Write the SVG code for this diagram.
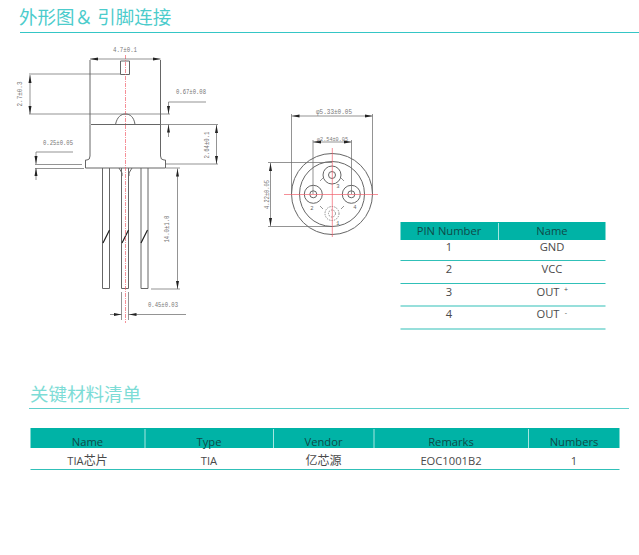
<svg xmlns="http://www.w3.org/2000/svg" width="639" height="555" viewBox="0 0 639 555">
<style>
.h{font-family:"Noto Sans CJK SC","Noto Sans",sans-serif;font-size:18.5px;fill:#4ccccc}
.h2{fill:#7ddcd6}
.t{font-family:"Open Sans","Noto Sans CJK SC",sans-serif;font-size:11.200px;fill:#4a4a4a;text-anchor:middle}
.th{fill:#0f4a48}
.z{font-family:"Noto Sans CJK SC",sans-serif;font-size:12px}
.dim{font-family:"Liberation Mono",monospace;font-size:7.500px;fill:#777;text-anchor:middle}
.sm{font-family:"Liberation Mono",monospace;font-size:5.500px;fill:#666;text-anchor:middle}
.l{fill:none;stroke:#666;stroke-width:.7}
.b{fill:none;stroke:#666;stroke-width:1}
.c{fill:none;stroke:#f0606c;stroke-width:.7}
.da{stroke-dasharray:4 1 1 1}
.rule{stroke:#35c6c6;stroke-width:1.200;fill:none}
.rule2{stroke:#5fd0cc;stroke-width:1.200;fill:none}
.row{stroke:#30c0b8;stroke-width:1.100}
.hd{fill:#00b3a6}
.sep{stroke:#a5e6e0;stroke-width:1}
</style>
<defs>
<marker id="a" viewBox="0 0 8 4" refX="8" refY="2" markerWidth="8" markerHeight="4" orient="auto-start-reverse" markerUnits="userSpaceOnUse"><path d="M0 .5L8 2L0 3.500Z" fill="#222"/></marker>
</defs>
<rect width="639" height="555" fill="#fff"/>

<g id="heading-outline">
<text class="h" x="19" y="24">外形图＆ 引脚连接</text>
<line class="rule" x1="20" y1="32.500" x2="639" y2="32.500"/>
</g>

<g id="side-view">
<path class="b" d="M120.500 61H129.500V74.500H120.500Z"/>
<path class="b" d="M90 60V124.500M160.500 60V124.500"/>
<path class="b" d="M91 124.500H160M115.500 124.500C117 117 121 114 125.500 114C130 114 134 117 135 124.500"/>
<path class="b" d="M90 124.500V156Q90 160 87 160H85.500V168H165.500V160H164Q160.500 160 160.500 156V124.500"/>
<path class="b" d="M102.500 168V288.500H109.500V168M121.500 168V288.500H128.500V168M141 168V288.500H148V168"/>
<path class="b" d="M119 168L122 173V176M132 168L129 173V176"/>
<path d="M103 243L109.500 230M122 243L128.500 230M141 243L147.500 230" fill="none" stroke="#222" stroke-width="1.200"/>
<line class="c da" x1="125.500" y1="55" x2="125.500" y2="323"/>
</g>

<g id="side-dimensions">
<path class="l" d="M90 59H160.500" marker-start="url(#a)" marker-end="url(#a)"/>
<text class="dim" x="125" y="52" textLength="24" lengthAdjust="spacingAndGlyphs">4.7±0.1</text>
<path class="l" d="M29 74H120M29 114H170"/>
<path class="l" d="M30 75V114" marker-start="url(#a)" marker-end="url(#a)"/>
<text class="dim" transform="translate(22 94) rotate(-90)" textLength="25" lengthAdjust="spacingAndGlyphs">2.7±0.3</text>
<path class="l" d="M206 102H168.500V114" marker-end="url(#a)"/>
<path class="l" d="M168.500 137V124.500" marker-end="url(#a)"/>
<text class="dim" x="191" y="94" textLength="30" lengthAdjust="spacingAndGlyphs">0.67±0.08</text>
<path class="l" d="M160 124.500H218M166 164H218"/>
<path class="l" d="M216.500 125V164" marker-start="url(#a)" marker-end="url(#a)"/>
<text class="dim" transform="translate(209 145) rotate(-90)" textLength="27" lengthAdjust="spacingAndGlyphs">2.64±0.1</text>
<path class="l" d="M73 152H36V164" marker-end="url(#a)"/>
<path class="l" d="M36 180V168" marker-end="url(#a)"/>
<path class="l" d="M35 164.500H82M35 168.500H84"/>
<text class="dim" x="58" y="145" textLength="30" lengthAdjust="spacingAndGlyphs">0.25±0.05</text>
<path class="l" d="M166 168H180M151 289H180"/>
<path class="l" d="M177.500 168.500V289" marker-start="url(#a)" marker-end="url(#a)"/>
<text class="dim" transform="translate(169 229) rotate(-90)" textLength="27" lengthAdjust="spacingAndGlyphs">14.0±1.0</text>
<path class="l" d="M121.500 292V320M128.500 292V320"/>
<path class="l" d="M110 314.500H121.500" marker-end="url(#a)"/>
<path class="l" d="M186 314.500H128.500" marker-end="url(#a)"/>
<text class="dim" x="163" y="307" textLength="30" lengthAdjust="spacingAndGlyphs">0.45±0.03</text>
</g>

<g id="bottom-view">
<circle class="b" cx="332" cy="194" r="40.500"/>
<circle class="b" cx="332" cy="194" r="32.500"/>
<circle class="b" cx="332" cy="175" r="9"/>
<circle class="b" cx="332" cy="175" r="3.500"/>
<circle class="b" cx="313.300" cy="194.300" r="9"/>
<circle class="b" cx="313.300" cy="194.300" r="3.500"/>
<circle class="b" cx="351.300" cy="194.300" r="9"/>
<circle class="b" cx="351.300" cy="194.300" r="3.500"/>
<circle class="l" cx="332" cy="213.500" r="7" stroke-dasharray="1.500 1"/>
<circle class="l" cx="332" cy="213.500" r="3.500" stroke-dasharray="1.500 1"/>
<path class="l" d="M323 178L320 181M341 178L344 181M320 206L323 209M344 206L341 209"/>
<line class="c" x1="284" y1="194.500" x2="378" y2="194.500"/>
<line class="c" x1="332.300" y1="148" x2="332.300" y2="237"/>
<text class="sm" x="338" y="188">3</text>
<text class="sm" x="312" y="210">2</text>
<text class="sm" x="355" y="209">4</text>
<text class="sm" x="338" y="225">1</text>
</g>

<g id="bottom-dimensions">
<path class="l" d="M291.500 116H372.500" marker-start="url(#a)" marker-end="url(#a)"/>
<path class="l" d="M291.500 114V194M372.500 114V194"/>
<text class="dim" x="334" y="113.500" style="font-size:6.500px" textLength="36" lengthAdjust="spacingAndGlyphs">φ5.33±0.05</text>
<path class="l" d="M313 142H351.500" marker-start="url(#a)" marker-end="url(#a)"/>
<path class="l" d="M313 140V194M351.500 140V194"/>
<text class="dim" x="332.500" y="141" style="font-size:6px" textLength="31" lengthAdjust="spacingAndGlyphs">φ2.54±0.05</text>
<path class="l" d="M268 162.500H332M268 226.500H332"/>
<path class="l" d="M270.500 163V226" marker-start="url(#a)" marker-end="url(#a)"/>
<text class="dim" transform="translate(269 194.500) rotate(-90)" style="font-size:6.500px" textLength="29" lengthAdjust="spacingAndGlyphs">4.22±0.05</text>
</g>

<g id="pin-table">
<rect class="hd" x="400.500" y="222" width="205" height="18"/>
<line class="sep" x1="498.500" y1="223" x2="498.500" y2="240"/>
<text class="t th" x="449" y="235">PIN Number</text>
<text class="t th" x="552" y="235">Name</text>
<text class="t" x="449" y="251">1</text><text class="t" x="552" y="251">GND</text>
<line class="row" x1="400.500" y1="260.500" x2="605.500" y2="260.500"/>
<text class="t" x="449" y="273">2</text><text class="t" x="552" y="273">VCC</text>
<line class="row" x1="400.500" y1="283.500" x2="605.500" y2="283.500"/>
<text class="t" x="449" y="296">3</text><text class="t" x="548" y="296">OUT</text><text class="t" x="566" y="292" style="font-size:7px">+</text>
<line class="row" x1="400.500" y1="306" x2="605.500" y2="306"/>
<text class="t" x="449" y="318">4</text><text class="t" x="548" y="318">OUT</text><text class="t" x="566" y="315" style="font-size:7px">-</text>
<line class="row" x1="400.500" y1="329" x2="605.500" y2="329"/>
</g>

<g id="heading-bom">
<text class="h h2" x="30" y="401">关键材料清单</text>
<line class="rule2" x1="29" y1="408.500" x2="629" y2="408.500"/>
</g>

<g id="bom-table">
<rect class="hd" x="30.500" y="428" width="589" height="20"/>
<line class="sep" x1="145" y1="429" x2="145" y2="448"/>
<line class="sep" x1="273.500" y1="429" x2="273.500" y2="448"/>
<line class="sep" x1="374" y1="429" x2="374" y2="448"/>
<line class="sep" x1="528.500" y1="429" x2="528.500" y2="448"/>
<text class="t th" x="87.500" y="445.500">Name</text>
<text class="t th" x="209" y="445.500">Type</text>
<text class="t th" x="323.500" y="445.500">Vendor</text>
<text class="t th" x="451" y="445.500">Remarks</text>
<text class="t th" x="574" y="445.500">Numbers</text>
<text class="t" x="87.500" y="465">TIA<tspan class="z">芯片</tspan></text>
<text class="t" x="209" y="465">TIA</text>
<text class="t z" x="323.500" y="465">亿芯源</text>
<text class="t" x="451" y="465">EOC1001B2</text>
<text class="t" x="574" y="465">1</text>
<line class="row" x1="30.500" y1="469.500" x2="619.500" y2="469.500"/>
</g>
</svg>
